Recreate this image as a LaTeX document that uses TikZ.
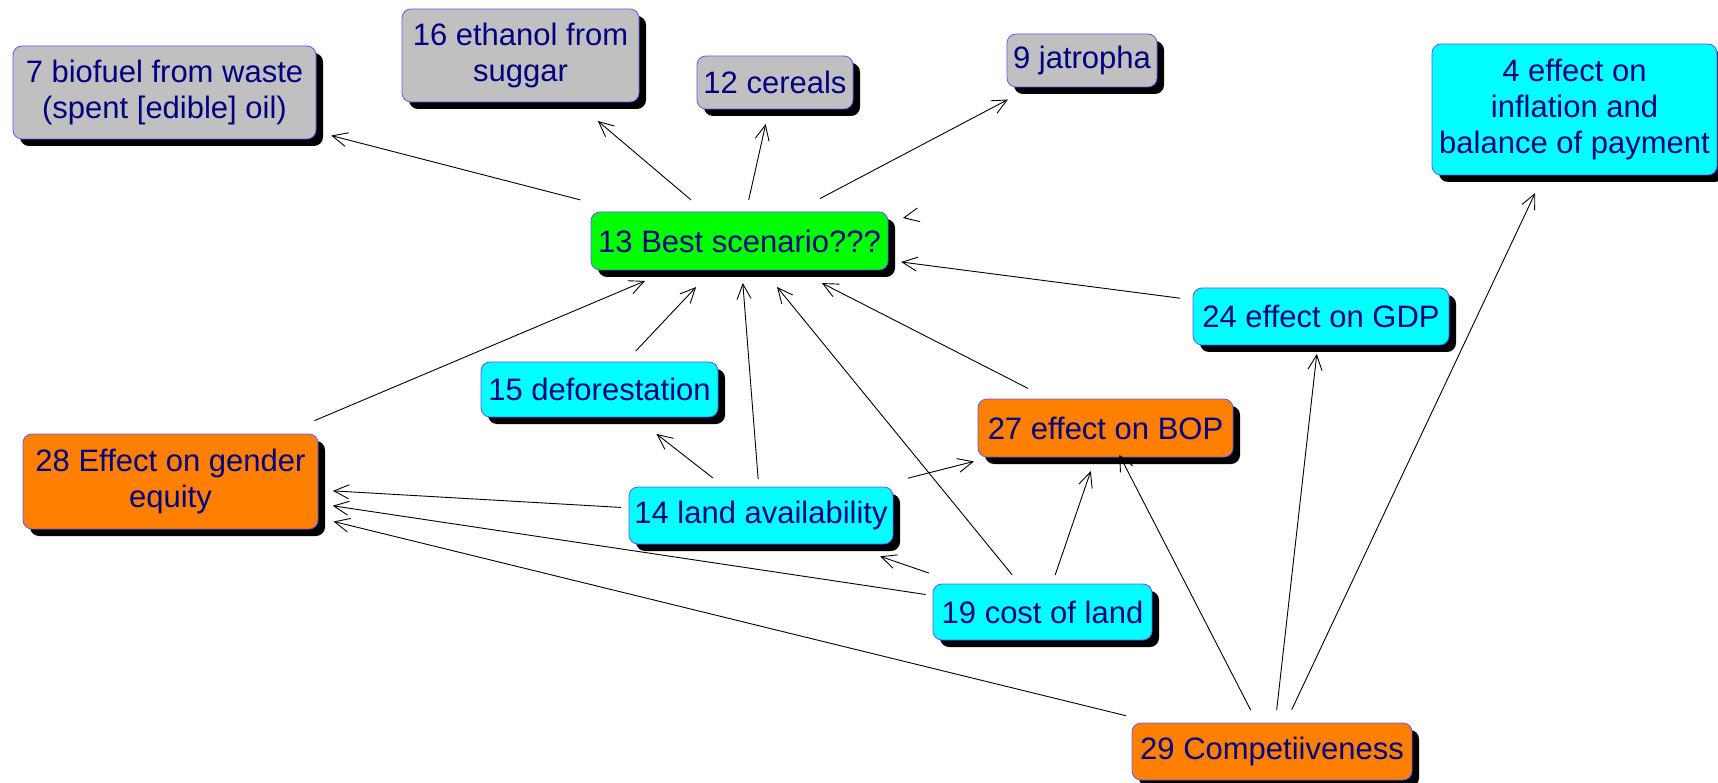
\documentclass[tikz,border=0pt]{standalone}
\usepackage{fontspec}
\setmainfont{Liberation Sans}
\usetikzlibrary{arrows.meta,calc,shadows}

\definecolor{boxgray}{HTML}{C0C0C0}
\definecolor{boxgreen}{HTML}{00FF00}
\definecolor{boxcyan}{HTML}{00FFFF}
\definecolor{boxorange}{HTML}{FF8000}
\definecolor{textnavy}{HTML}{000080}
\definecolor{edgeblue}{HTML}{5A5AFF}

% connector between two named nodes, cut at fractions of the centre-to-centre line
\newcommand\joinnodes[4]{\draw[conn] ($(#1)!#3!(#2)$) -- ($(#1)!#4!(#2)$);}

\begin{document}
\begin{tikzpicture}[x=1pt,y=-1pt,
  card/.style={draw=edgeblue, line width=0.8pt, rounded corners=9pt,
    inner sep=0pt, align=center, text=textnavy,
    font=\fontsize{31}{36}\selectfont,
    drop shadow={shadow xshift=7pt, shadow yshift=-7pt, fill=black, opacity=1}},
  grey/.style={card, fill=boxgray},
  green/.style={card, fill=boxgreen},
  cyan/.style={card, fill=boxcyan},
  orange/.style={card, fill=boxorange},
  conn/.style={draw=black, line width=0.9pt,
    -{Straight Barb[length=15pt,width=14pt,line width=0.9pt]}}]

\useasboundingbox (0,0) rectangle (1718,783);

% boxes
\node[grey, minimum width=303pt, minimum height=93pt] (n7) at (164.5,92.5)
  {7 biofuel from waste\\ (spent [edible] oil)};
\node[grey, minimum width=237pt, minimum height=93pt] (n16) at (520.5,55.5)
  {16 ethanol from\\suggar};
\node[grey, minimum width=156pt, minimum height=53pt] (n12) at (775,82.5) {12 cereals};
\node[grey, minimum width=150pt, minimum height=53pt] (n9) at (1082,60.5) {9 jatropha};
\node[cyan, minimum width=285pt, minimum height=131pt] (n4) at (1574.5,109.5)
  {4 effect on\\inflation and\\balance of payment};
\node[green, minimum width=297pt, minimum height=58pt] (n13) at (739.5,241) {13 Best scenario???};
\node[cyan, minimum width=256pt, minimum height=57pt] (n24) at (1321,316.5) {24 effect on GDP};
\node[cyan, minimum width=237pt, minimum height=55pt] (n15) at (599.5,389.5) {15 deforestation};
\node[orange, minimum width=255pt, minimum height=58pt] (n27) at (1105.5,428) {27 effect on BOP};
\node[orange, minimum width=295pt, minimum height=95pt] (n28) at (170.5,481.5)
  {28 Effect on gender\\equity};
\node[cyan, minimum width=264pt, minimum height=57pt] (n14) at (761,515.5) {14 land availability};
\node[cyan, minimum width=219pt, minimum height=56pt] (n19) at (1042.5,612) {19 cost of land};
\node[orange, minimum width=280pt, minimum height=57pt] (n29) at (1272,751.5) {29 Competiiveness};

% connectors
\joinnodes{n13}{n7}{0.277}{0.710}
\joinnodes{n13}{n16}{0.221}{0.647}
\joinnodes{n13}{n12}{0.259}{0.738}
\joinnodes{n13}{n9}{0.235}{0.784}
\joinnodes{n24}{n13}{0.2425}{0.722}
\joinnodes{n27}{n13}{0.212}{0.775}
\joinnodes{n19}{n13}{0.100}{0.876}
\joinnodes{n14}{n13}{0.133}{0.847}
\joinnodes{n15}{n13}{0.259}{0.690}
\joinnodes{n28}{n13}{0.253}{0.834}
\joinnodes{n14}{n15}{0.298}{0.647}
\joinnodes{n14}{n27}{0.427}{0.618}
\joinnodes{n14}{n28}{0.237}{0.725}
\joinnodes{n19}{n28}{0.134}{0.814}
\joinnodes{n29}{n28}{0.1325}{0.852}
\joinnodes{n19}{n14}{0.403}{0.577}
\joinnodes{n19}{n27}{0.201}{0.766}
\joinnodes{n29}{n27}{0.128}{0.917}
\joinnodes{n29}{n24}{0.095}{0.914}
\joinnodes{n29}{n4}{0.065}{0.870}

% lone arrowhead beside the scenario box
\coordinate (stubtail) at (904,217.8);
\coordinate (stubtip) at (903,218);
\draw[conn] (stubtail) -- (stubtip);

\end{tikzpicture}
\end{document}
